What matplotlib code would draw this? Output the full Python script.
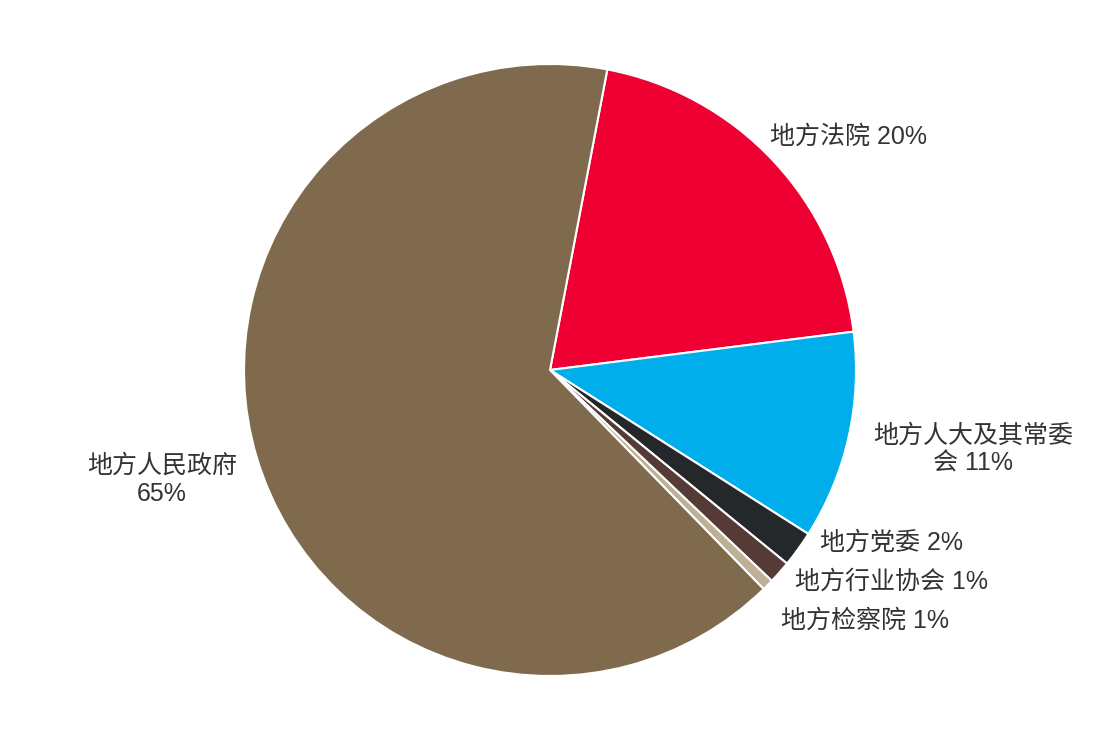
import matplotlib
matplotlib.use("Agg")
import matplotlib.pyplot as plt

plt.rcParams['font.family'] = ['Liberation Sans', 'Noto Sans CJK SC', 'DejaVu Sans']

categories = ['地方法院', '地方人大及其常委会', '地方党委', '地方行业协会', '地方检察院', '地方人民政府']
values = [20.0, 11.0, 1.9, 1.2, 0.6, 65.3]
pct_labels = ['20%', '11%', '2%', '1%', '1%', '65%']
colors = ['#EE0033', '#00AEEB', '#25282B', '#553A36', '#BFAF94', '#7F6A4D']

W, H = 1101, 742
fig = plt.figure(figsize=(W / 100, H / 100), dpi=100)
cx, cy, r = 550, 370, 306
ax = fig.add_axes([(cx - r) / W, (H - cy - r) / H, 2 * r / W, 2 * r / H])
ax.pie(values, colors=colors, startangle=79.2, counterclock=False,
       wedgeprops=dict(edgecolor='white', linewidth=1.5), radius=1.0)
ax.set_xlim(-1, 1)
ax.set_ylim(-1, 1)
ax.set_aspect('equal')
ax.axis('off')

tc = '#333333'
fs = 18
label_texts = [
    f'{categories[0]} {pct_labels[0]}',
    f'地方人大及其常委\n会 {pct_labels[1]}',
    f'{categories[2]} {pct_labels[2]}',
    f'{categories[3]} {pct_labels[3]}',
    f'{categories[4]} {pct_labels[4]}',
    f'{categories[5]}\n{pct_labels[5]}',
]
label_pos = [(0.719, 0.761, 'left'), (1.382, -0.261, 'center'), (0.882, -0.565, 'left'),
             (0.801, -0.693, 'left'), (0.755, -0.820, 'left'), (-1.268, -0.359, 'center')]
for t, (x, y, ha) in zip(label_texts, label_pos):
    ax.text(x, y, t, ha=ha, va='center', fontsize=fs, color=tc, multialignment='center',
            linespacing=1.2, clip_on=False)

fig.savefig('out.png', dpi=100, facecolor='white')
